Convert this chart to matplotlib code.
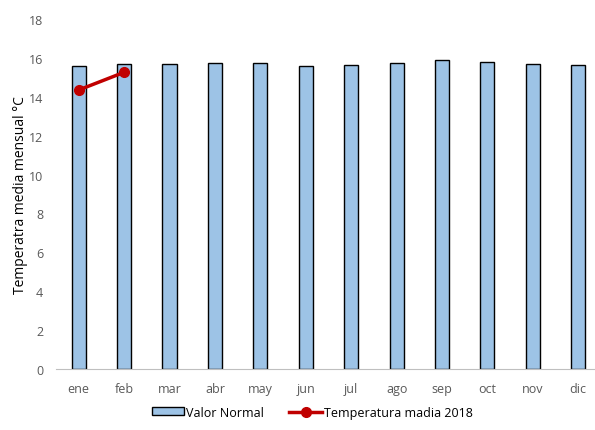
import numpy as np
import matplotlib
matplotlib.use('Agg')
import matplotlib.pyplot as plt
from matplotlib.lines import Line2D
from matplotlib.patches import Patch

meses = ['ene', 'feb', 'mar', 'abr', 'may', 'jun', 'jul', 'ago', 'sep', 'oct', 'nov', 'dic']
valor_normal = [15.6, 15.7, 15.7, 15.75, 15.75, 15.58, 15.62, 15.75, 15.87, 15.8, 15.7, 15.62]
temp_2018 = [14.35, 15.26]

plt.rcParams['font.family'] = ['Open Sans', 'DejaVu Sans']

fig = plt.figure(figsize=(5.95, 4.31), dpi=100)
ax = fig.add_axes([0.094, 0.1415, 0.916, 0.812])

x = np.arange(len(meses))
ax.bar(x, valor_normal, width=0.31, color='#9dc3e6', edgecolor='black', linewidth=1.0, zorder=2)
ax.plot(x[:len(temp_2018)], temp_2018, color='#c00000', linewidth=2.5, marker='o', markersize=7, zorder=3)

ax.set_xlim(-0.5, len(meses) - 0.5)
ax.set_ylim(0, 18)
ax.set_yticks(range(0, 19, 2))
ax.set_xticks(x)
ax.set_xticklabels(meses)
ax.tick_params(axis='both', length=0, labelsize=9, colors='#595959', pad=9)
ax.set_ylabel('Temperatra media mensual °C', fontsize=10, color='black', labelpad=1)

for s in ['top', 'right', 'left']:
    ax.spines[s].set_visible(False)
ax.spines['bottom'].set_color('#bfbfbf')

handles = [Patch(facecolor='#9dc3e6', edgecolor='black', linewidth=1.0),
           Line2D([], [], color='#c00000', linewidth=2.5, marker='o', markersize=7)]
fig.legend(handles, ['Valor Normal', 'Temperatura madia 2018'], loc='lower center',
           bbox_to_anchor=(0.525, 0.0), ncol=2, frameon=False, fontsize=9,
           handlelength=2.6, handleheight=0.6, columnspacing=2.0, handletextpad=0.2)

fig.savefig('out.png', dpi=100)
